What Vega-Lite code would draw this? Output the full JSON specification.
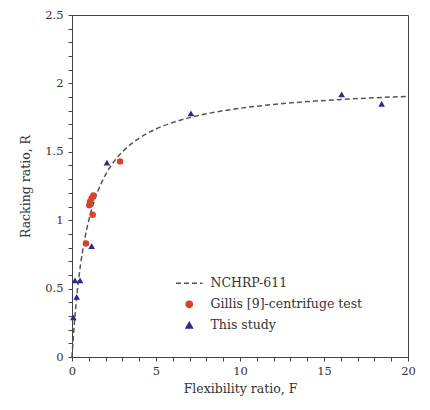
{
  "$schema": "https://vega.github.io/schema/vega-lite/v6.json",
  "width": 336,
  "height": 342,
  "autosize": "none",
  "padding": {"left": 72, "top": 15, "right": 22, "bottom": 53},
  "background": "white",
  "config": {
    "view": {"stroke": "#444", "strokeWidth": 1},
    "font": "DejaVu Serif",
    "axis": {"labelFont": "DejaVu Serif", "titleFont": "DejaVu Serif", "labelColor": "#333", "titleColor": "#333", "domainColor": "#444", "tickColor": "#444", "grid": false, "labelFontSize": 11.5, "titleFontSize": 12.5, "titleFontWeight": "normal"}
  },
  "data": {"values": [
    {"F": 0, "R": 0, "series": "NCHRP-611"},
    {"F": 0.05, "R": 0.095, "series": "NCHRP-611"},
    {"F": 0.1, "R": 0.182, "series": "NCHRP-611"},
    {"F": 0.2, "R": 0.333, "series": "NCHRP-611"},
    {"F": 0.3, "R": 0.462, "series": "NCHRP-611"},
    {"F": 0.4, "R": 0.571, "series": "NCHRP-611"},
    {"F": 0.5, "R": 0.667, "series": "NCHRP-611"},
    {"F": 0.75, "R": 0.857, "series": "NCHRP-611"},
    {"F": 1, "R": 1.0, "series": "NCHRP-611"},
    {"F": 1.25, "R": 1.111, "series": "NCHRP-611"},
    {"F": 1.5, "R": 1.2, "series": "NCHRP-611"},
    {"F": 2, "R": 1.333, "series": "NCHRP-611"},
    {"F": 2.5, "R": 1.429, "series": "NCHRP-611"},
    {"F": 3, "R": 1.5, "series": "NCHRP-611"},
    {"F": 4, "R": 1.6, "series": "NCHRP-611"},
    {"F": 5, "R": 1.667, "series": "NCHRP-611"},
    {"F": 6, "R": 1.714, "series": "NCHRP-611"},
    {"F": 7, "R": 1.75, "series": "NCHRP-611"},
    {"F": 8, "R": 1.778, "series": "NCHRP-611"},
    {"F": 10, "R": 1.818, "series": "NCHRP-611"},
    {"F": 12, "R": 1.846, "series": "NCHRP-611"},
    {"F": 14, "R": 1.867, "series": "NCHRP-611"},
    {"F": 16, "R": 1.882, "series": "NCHRP-611"},
    {"F": 18, "R": 1.895, "series": "NCHRP-611"},
    {"F": 20, "R": 1.905, "series": "NCHRP-611"},
    {"F": 0.83, "R": 0.83, "series": "Gillis [9]-centrifuge test"},
    {"F": 1.03, "R": 1.11, "series": "Gillis [9]-centrifuge test"},
    {"F": 1.07, "R": 1.135, "series": "Gillis [9]-centrifuge test"},
    {"F": 1.17, "R": 1.16, "series": "Gillis [9]-centrifuge test"},
    {"F": 1.27, "R": 1.18, "series": "Gillis [9]-centrifuge test"},
    {"F": 1.23, "R": 1.04, "series": "Gillis [9]-centrifuge test"},
    {"F": 2.86, "R": 1.43, "series": "Gillis [9]-centrifuge test"},
    {"F": 0.08, "R": 0.29, "series": "This study"},
    {"F": 0.28, "R": 0.44, "series": "This study"},
    {"F": 0.18, "R": 0.56, "series": "This study"},
    {"F": 0.48, "R": 0.56, "series": "This study"},
    {"F": 1.17, "R": 0.81, "series": "This study"},
    {"F": 2.08, "R": 1.42, "series": "This study"},
    {"F": 7.08, "R": 1.78, "series": "This study"},
    {"F": 16.05, "R": 1.92, "series": "This study"},
    {"F": 18.43, "R": 1.85, "series": "This study"}
  ]},
  "layer": [
    {
      "transform": [{"filter": "datum.series === 'NCHRP-611'"}],
      "mark": {"type": "line", "strokeDash": [5, 3], "strokeWidth": 1.5, "interpolate": "monotone"},
      "encoding": {
        "x": {"field": "F", "type": "quantitative", "scale": {"domain": [0, 20], "nice": false},
          "axis": {"values": [0,1,2,3,4,5,6,7,8,9,10,11,12,13,14,15,16,17,18,19,20],
            "tickCount": 40,
            "format": "~g",
            "labelExpr": "datum.value % 5 === 0 ? datum.label : ''",
            "labelOverlap": false, "labelBound": false, "labelFlush": false,
            "tickSize": 4,
            "title": "Flexibility ratio, F", "labelPadding": 4, "titlePadding": 6}},
        "y": {"field": "R", "type": "quantitative", "scale": {"domain": [0, 2.5], "nice": false},
          "axis": {"values": [0,0.1,0.2,0.3,0.4,0.5,0.6,0.7,0.8,0.9,1,1.1,1.2,1.3,1.4,1.5,1.6,1.7,1.8,1.9,2,2.1,2.2,2.3,2.4,2.5],
            "tickCount": 40,
            "format": "~g",
            "labelExpr": "abs(datum.value * 2 - round(datum.value * 2)) < 0.001 ? datum.label : ''",
            "labelOverlap": false, "labelBound": false, "labelFlush": false,
            "tickSize": 4,
            "title": "Racking ratio, R", "labelPadding": 5, "titlePadding": 12}},
        "color": {"field": "series", "type": "nominal",
          "scale": {"domain": ["NCHRP-611", "Gillis [9]-centrifuge test", "This study"], "range": ["#555555", "#d9432a", "#2c2a8c"]},
          "legend": {"orient": "none", "legendX": 111, "legendY": 262, "title": null, "labelFont": "DejaVu Serif", "labelFontSize": 12.5, "labelColor": "#333", "rowPadding": 8, "symbolSize": 700, "labelOffset": 15,
            "encode": {"symbols": {"update": {
              "shape": {"signal": "datum.value === 'NCHRP-611' ? 'stroke' : (datum.value === 'This study' ? 'triangle-up' : 'circle')"},
              "size": {"signal": "datum.value === 'NCHRP-611' ? 700 : 40"},
              "strokeDash": {"signal": "datum.value === 'NCHRP-611' ? [5, 3] : [1, 0]"},
              "stroke": {"signal": "datum.value === 'NCHRP-611' ? '#555555' : 'transparent'"},
              "strokeWidth": {"value": 1.5},
              "fill": {"signal": "datum.value === 'NCHRP-611' ? 'transparent' : (datum.value === 'This study' ? '#2c2a8c' : '#d9432a')"},
              "opacity": {"value": 1}
            }}}
          }
        }
      }
    },
    {
      "transform": [{"filter": "datum.series === 'Gillis [9]-centrifuge test'"}],
      "mark": {"type": "point", "filled": true, "shape": "circle", "size": 42, "opacity": 1},
      "encoding": {
        "x": {"field": "F", "type": "quantitative"},
        "y": {"field": "R", "type": "quantitative"},
        "color": {"field": "series", "type": "nominal"}
      }
    },
    {
      "transform": [{"filter": "datum.series === 'This study'"}],
      "mark": {"type": "point", "filled": true, "shape": "triangle-up", "size": 44, "opacity": 1},
      "encoding": {
        "x": {"field": "F", "type": "quantitative"},
        "y": {"field": "R", "type": "quantitative"},
        "color": {"field": "series", "type": "nominal"}
      }
    }
  ]
}
